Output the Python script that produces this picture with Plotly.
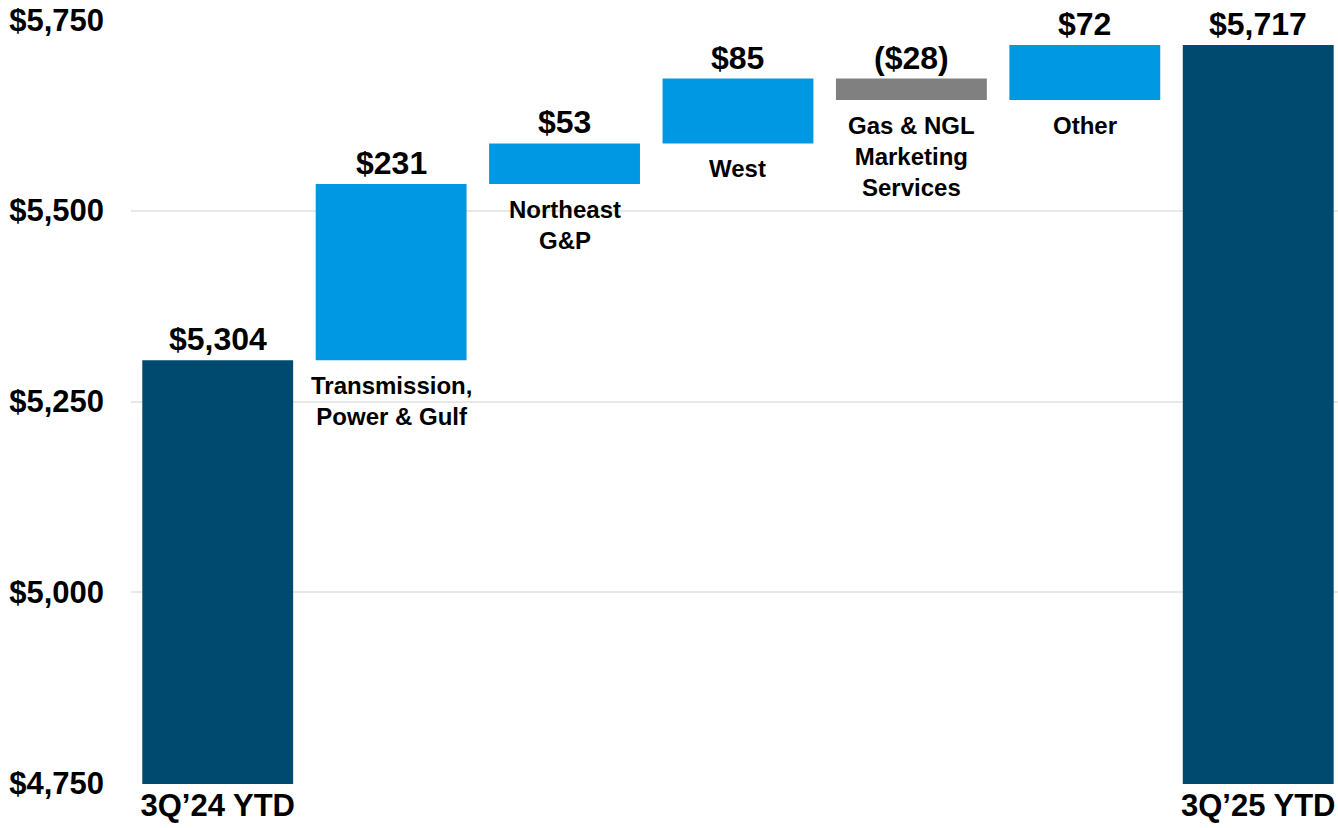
import plotly.graph_objects as go

categories = ["3Q’24 YTD", "Transmission,<br>Power & Gulf", "Northeast<br>G&P", "West",
              "Gas & NGL<br>Marketing<br>Services", "Other", "3Q’25 YTD"]
measures = ["absolute", "relative", "relative", "relative", "relative", "relative", "total"]
values = [5304, 231, 53, 85, -28, 72, 0]
value_labels = ["$5,304", "$231", "$53", "$85", "($28)", "$72", "$5,717"]
y_ticks = [4750, 5000, 5250, 5500, 5750]
y_tick_labels = ["$4,750", "$5,000", "$5,250", "$5,500", "$5,750"]

DARK = "#004a70"
BLUE = "#0098e3"
GRAY = "#808080"
FONT = "Liberation Sans, Arial, sans-serif"

fig = go.Figure(go.Waterfall(
    x=categories,
    y=values,
    measure=measures,
    base=0,
    increasing=dict(marker=dict(color=BLUE)),
    decreasing=dict(marker=dict(color=GRAY)),
    totals=dict(marker=dict(color=DARK)),
    connector=dict(visible=False),
    width=0.87,
))

# running totals to place labels
tops, bottoms = [], []
running = 0
for m, v in zip(measures, values):
    if m == "absolute":
        lo, hi = 0, v
        running = v
    elif m == "total":
        lo, hi = 0, running
    else:
        lo, hi = sorted([running, running + v])
        running += v
    tops.append(hi)
    bottoms.append(lo)

for i, cat in enumerate(categories):
    fig.add_annotation(x=cat, y=tops[i], text=value_labels[i], showarrow=False,
                       yanchor="bottom", yshift=1,
                       font=dict(family=FONT, size=32, color="black", weight="bold"))
    if measures[i] == "relative":
        fig.add_annotation(x=cat, y=bottoms[i], text=cat, showarrow=False,
                           yanchor="top", yshift=-10,
                           font=dict(family=FONT, size=24, color="black", weight="bold"))

fig.update_layout(
    width=1338, height=828,
    margin=dict(l=131, r=0, t=19, b=44),
    plot_bgcolor="white", paper_bgcolor="white",
    showlegend=False,
    font=dict(family=FONT, color="black"),
)
fig.update_xaxes(
    range=[-0.5, 6.46],
    tickmode="array", tickvals=[categories[0], categories[-1]],
    ticktext=[categories[0], categories[-1]],
    tickfont=dict(family=FONT, size=31, weight="bold"),
    showgrid=False, zeroline=False, showline=False, ticks="",
    automargin=False,
)
# range padded by a unit so the edge gridlines still get drawn
fig.update_yaxes(
    range=[4749, 5751],
    tickmode="array", tickvals=y_ticks, ticktext=y_tick_labels,
    tickfont=dict(family=FONT, size=31, weight="bold"),
    showgrid=True, gridcolor="#e8e8e8", gridwidth=2,
    zeroline=False, showline=False, ticks="",
    ticklabelstandoff=26, automargin=False,
)

# drop the default 8px body margin so the figure fills the window
fig.write_html("out.html", config={"displayModeBar": False},
               post_script="document.body.style.margin = '0';")
